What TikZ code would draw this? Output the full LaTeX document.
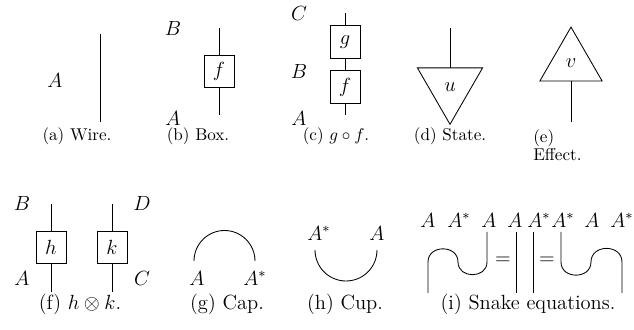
\documentclass[tikz,border=0pt]{standalone}
\usetikzlibrary{shapes.geometric}

\begin{document}
\begin{tikzpicture}[x=0.585pt, y=0.585pt,
  wire/.style={draw, line width=0.5pt},
  morph/.style={rectangle, draw, line width=0.5pt, minimum width=17.5pt,
                minimum height=19pt, inner sep=0pt, outer sep=0pt, font=\large},
  stateshape/.style={regular polygon, regular polygon sides=3, shape border rotate=180,
                draw, line width=0.5pt, minimum size=44pt, inner sep=0pt, outer sep=0pt,
                font=\large},
  effectshape/.style={regular polygon, regular polygon sides=3,
                draw, line width=0.5pt, minimum size=42pt, inner sep=0pt, outer sep=0pt,
                font=\large},
  lab/.style={inner sep=0pt, font=\large},
  subcap/.style={inner sep=0pt, anchor=base},
  subcapb/.style={inner sep=0pt, anchor=base, font=\large},
]
\useasboundingbox (0,0) rectangle (634,330);
% ---- (a) wire
\coordinate (a_bot) at (100,208);
\coordinate (a_top) at (100,296);
\draw[wire] (a_bot) -- (a_top);
\node[lab] (a_A) at (55,250) {$A$};
\node[subcap] (cap_a) at (77,189) {(a) Wire.};
% ---- (b) box
\node[morph] (f_b) at (219,258.5) {$f$};
\coordinate (b_bot) at (219,215);
\coordinate (b_top) at (219,302);
\draw[wire] (b_bot) -- (f_b.south);
\draw[wire] (f_b.north) -- (b_top);
\node[lab] (b_B) at (173,302) {$B$};
\node[lab] (b_A) at (173,212) {$A$};
\node[subcap] (cap_b) at (198,189) {(b) Box.};
% ---- (c) composition
\node[morph] (g_c) at (345,288) {$g$};
\node[morph] (f_c) at (345,243) {$f$};
\coordinate (c_bot) at (345,215);
\coordinate (c_top) at (345,317);
\draw[wire] (c_bot) -- (f_c.south);
\draw[wire] (f_c.north) -- (g_c.south);
\draw[wire] (g_c.north) -- (c_top);
\node[lab] (c_C) at (299,317) {$C$};
\node[lab] (c_B) at (299,259) {$B$};
\node[lab] (c_A) at (299,212) {$A$};
\node[subcap] (cap_c) at (336,189) {(c) $g\circ f$.};
% ---- (d) state
\node[stateshape] (u) at (450,243.3) {$u$};
\coordinate (d_top) at (450,302);
\draw[wire] (u.side 2) -- (d_top);
\node[subcap] (cap_d) at (450,189) {(d) State.};
% ---- (e) effect
\node[effectshape] (v) at (571,267) {$v$};
\coordinate (e_bot) at (571,208);
\draw[wire] (e_bot) -- (v.side 2);
\node[inner sep=0pt, anchor=north west, align=left, font=\fontsize{10}{10.5}\selectfont]
  (cap_e) at (533,201) {(e)\\Effect.};
% ---- (f) parallel composition
\node[morph] (h) at (51,82.5) {$h$};
\node[morph] (k) at (112,82.5) {$k$};
\coordinate (h_bot) at (51,38);
\coordinate (h_top) at (51,126);
\coordinate (k_bot) at (112,38);
\coordinate (k_top) at (112,126);
\draw[wire] (h_bot) -- (h.south);
\draw[wire] (h.north) -- (h_top);
\draw[wire] (k_bot) -- (k.south);
\draw[wire] (k.north) -- (k_top);
\node[lab] (f_B) at (22,127) {$B$};
\node[lab] (f_A) at (22,52) {$A$};
\node[lab] (f_D) at (142,127) {$D$};
\node[lab] (f_C) at (142,52) {$C$};
\node[subcapb] (cap_f) at (80,20) {(f) $h\otimes k$.};
% ---- (g) cap
\coordinate (g_l) at (194,69);
\draw[wire] (g_l) arc[start angle=180, end angle=0, radius=30.5] coordinate (g_r);
\node[lab] (g_A) at (197,52) {$A$};
\node[lab] (g_As) at (255,52) {$A^*$};
\node[subcapb] (cap_g) at (227,20) {(g) Cap.};
% ---- (h) cup
\coordinate (h_l) at (315,80);
\draw[wire] (h_l) arc[start angle=180, end angle=360, radius=31] coordinate (h_r);
\node[lab] (h_As) at (319,97) {$A^*$};
\node[lab] (h_A) at (377,97) {$A$};
\node[subcapb] (cap_h) at (345,20) {(h) Cup.};
% ---- (i) snake equations
\coordinate (s1_bot) at (428,37);
\coordinate (s1_top) at (487,98);
\coordinate (id1_bot) at (516,37);
\coordinate (id1_top) at (516,98);
\coordinate (id2_bot) at (533,37);
\coordinate (id2_top) at (533,98);
\coordinate (s2_top) at (561,98);
\coordinate (s2_bot) at (622,37);
\draw[wire] (s1_bot) -- ++(0,31) to[out=90, in=90, looseness=1.5] ++(30,0)
  to[out=-90, in=-90, looseness=1.5] ++(29,0) -- (s1_top);
\draw[wire] (id1_bot) -- (id1_top);
\draw[wire] (id2_bot) -- (id2_top);
\draw[wire] (s2_top) -- ++(0,-30) to[out=-90, in=-90, looseness=1.5] ++(30,0)
  to[out=90, in=90, looseness=1.5] ++(31,0) -- (s2_bot);
\node[lab] (eq1) at (503,69) {$=$};
\node[lab] (eq2) at (547,69) {$=$};
\foreach \x/\t [count=\i] in {428/A, 459/A^*, 489/A, 515/A, 539/A^*, 563/A^*, 592/A, 622/A^*}
  \node[lab] (i_\i) at (\x,110) {$\t$};
\node[subcapb] (cap_i) at (528,20) {(i) Snake equations.};
\end{tikzpicture}
\end{document}
